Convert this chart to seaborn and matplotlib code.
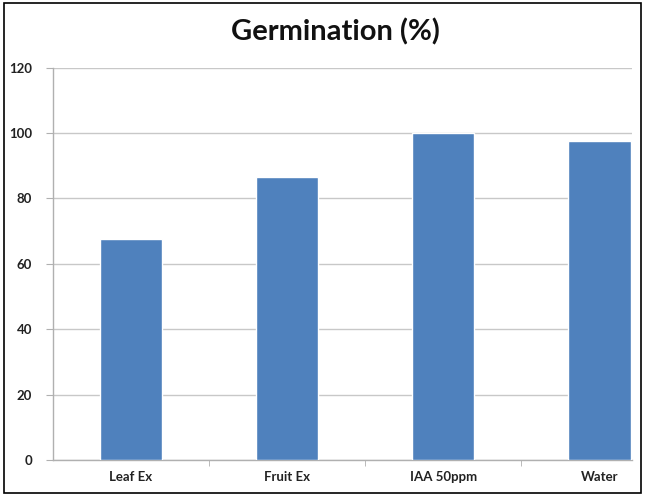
import matplotlib
matplotlib.use("Agg")
import matplotlib.pyplot as plt
import seaborn as sns
import pandas as pd
from matplotlib.patches import Rectangle

# chart data
treatments = ["Leaf Ex", "Fruit Ex", "IAA 50ppm", "Water"]
germination = [67.5, 86.7, 100, 97.7]
y_ticks = [0, 20, 40, 60, 80, 100, 120]

df = pd.DataFrame({"treatment": treatments, "germination": germination})

sns.set_style("white")
plt.rcParams["font.family"] = ["Lato", "DejaVu Sans"]

fig = plt.figure(figsize=(6.45, 4.95), dpi=100)
ax = fig.add_axes([0.082, 0.071, 0.898, 0.792])

sns.barplot(data=df, x="treatment", y="germination", color="#4F81BD",
            saturation=1, width=0.4, ax=ax, zorder=3)

ax.set_ylim(0, 120)
ax.set_yticks(y_ticks)
ax.set_xlim(-0.5, 3.21)
ax.yaxis.grid(True, color="#c8c8c8", linewidth=1, zorder=0)
ax.set_axisbelow(True)
ax.set_xlabel("")
ax.set_ylabel("")

for side in ["top", "right"]:
    ax.spines[side].set_visible(False)
for side in ["left", "bottom"]:
    ax.spines[side].set_color("#b0b0b0")
    ax.spines[side].set_linewidth(1)

# boundary ticks between categories
ax.set_xticks([0.5, 1.5, 2.5], minor=True)
ax.tick_params(axis="x", which="minor", length=4, color="#b0b0b0", direction="out", bottom=True)
ax.tick_params(axis="x", which="major", length=0, labelsize=9.5, pad=8)
ax.tick_params(axis="y", length=5, color="#b0b0b0", direction="out", left=True, labelsize=9.5, pad=10)
for lbl in ax.get_xticklabels() + ax.get_yticklabels():
    lbl.set_fontweight("bold")
    lbl.set_color("#222222")

fig.text(0.52, 0.935, "Germination (%)", ha="center", va="center",
         fontsize=21, fontweight="bold", color="#111111")

# outer frame
fig.patches.append(Rectangle((0.006, 0.004), 0.988, 0.99, transform=fig.transFigure,
                             fill=False, edgecolor="black", linewidth=1.2))

fig.savefig("out.png", dpi=100)
